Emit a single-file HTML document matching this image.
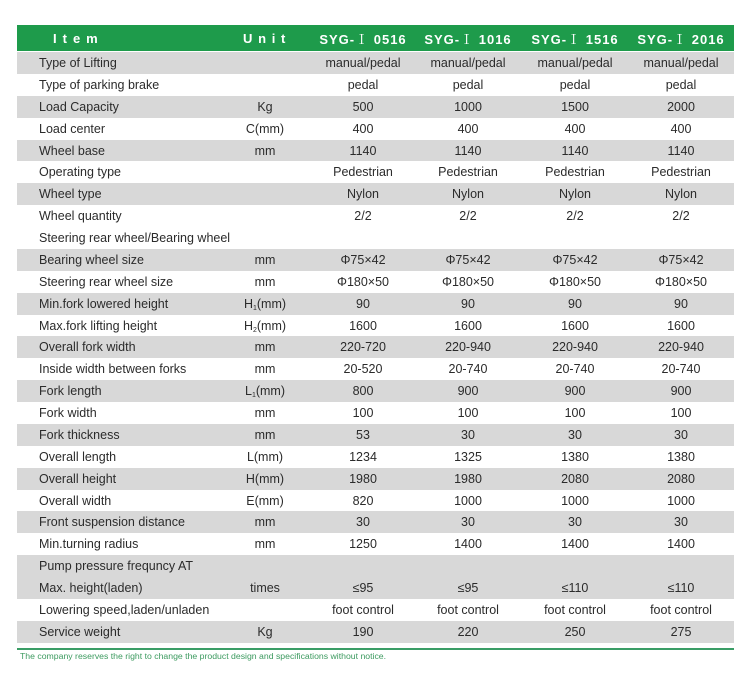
<!DOCTYPE html>
<html>
<head>
<meta charset="utf-8">
<style>
  html,body{margin:0;padding:0;background:#fff;}
  body{width:750px;height:697px;position:relative;overflow:hidden;font-family:"Liberation Sans","Noto Sans CJK SC",sans-serif;color:#2b2b2b;}
  .hdr{position:absolute;left:17px;top:25px;width:717px;height:26px;background:#1e9b4b;color:#fff;font-weight:bold;font-size:13px;}
  .hdr span{position:absolute;top:0;line-height:28px;white-space:nowrap;}
  .hdr .m{width:120px;text-align:center;letter-spacing:1px;}
  .rn{font-family:"Noto Serif CJK SC","Liberation Serif",serif;font-weight:normal;}
  .row{position:absolute;left:17px;width:717px;height:21.88px;font-size:12.5px;}
  .g{background:#d8d8d8;}
  .row span{position:absolute;top:0;line-height:22px;white-space:nowrap;}
  .it{left:22px;}
  .u{left:208px;width:80px;text-align:center;}
  .c1{left:286px;width:120px;text-align:center;}
  .c2{left:391px;width:120px;text-align:center;}
  .c3{left:498px;width:120px;text-align:center;}
  .c4{left:604px;width:120px;text-align:center;}
  sub{font-size:7px;vertical-align:-2px;line-height:0;}
  .line{position:absolute;left:17px;top:647.5px;width:717px;height:2px;background:#3a9d66;}
  .foot{position:absolute;left:20px;top:650.5px;font-size:8.7px;line-height:10px;color:#3c9a5f;white-space:nowrap;}
</style>
</head>
<body>
<div class="hdr">
  <span style="left:36px;letter-spacing:6px;">Item</span>
  <span style="left:226px;letter-spacing:5.7px;">Unit</span>
  <span class="m" style="left:286px;">SYG-<span class="rn" style="position:static;">Ⅰ</span> 0516</span>
  <span class="m" style="left:391px;">SYG-<span class="rn" style="position:static;">Ⅰ</span> 1016</span>
  <span class="m" style="left:498px;">SYG-<span class="rn" style="position:static;">Ⅰ</span> 1516</span>
  <span class="m" style="left:604px;">SYG-<span class="rn" style="position:static;">Ⅰ</span> 2016</span>
</div>

<div class="row g" style="top:52px"><span class="it">Type of Lifting</span><span class="c1">manual/pedal</span><span class="c2">manual/pedal</span><span class="c3">manual/pedal</span><span class="c4">manual/pedal</span></div>
<div class="row" style="top:73.88px"><span class="it">Type of parking brake</span><span class="c1">pedal</span><span class="c2">pedal</span><span class="c3">pedal</span><span class="c4">pedal</span></div>
<div class="row g" style="top:95.76px"><span class="it">Load Capacity</span><span class="u">Kg</span><span class="c1">500</span><span class="c2">1000</span><span class="c3">1500</span><span class="c4">2000</span></div>
<div class="row" style="top:117.64px"><span class="it">Load center</span><span class="u">C(mm)</span><span class="c1">400</span><span class="c2">400</span><span class="c3">400</span><span class="c4">400</span></div>
<div class="row g" style="top:139.52px"><span class="it">Wheel base</span><span class="u">mm</span><span class="c1">1140</span><span class="c2">1140</span><span class="c3">1140</span><span class="c4">1140</span></div>
<div class="row" style="top:161.40px"><span class="it">Operating type</span><span class="c1">Pedestrian</span><span class="c2">Pedestrian</span><span class="c3">Pedestrian</span><span class="c4">Pedestrian</span></div>
<div class="row g" style="top:183.28px"><span class="it">Wheel type</span><span class="c1">Nylon</span><span class="c2">Nylon</span><span class="c3">Nylon</span><span class="c4">Nylon</span></div>
<div class="row" style="top:205.16px"><span class="it">Wheel quantity</span><span class="c1">2/2</span><span class="c2">2/2</span><span class="c3">2/2</span><span class="c4">2/2</span></div>
<div class="row" style="top:227.04px"><span class="it">Steering rear wheel/Bearing wheel</span></div>
<div class="row g" style="top:248.92px"><span class="it">Bearing wheel size</span><span class="u">mm</span><span class="c1">Φ75×42</span><span class="c2">Φ75×42</span><span class="c3">Φ75×42</span><span class="c4">Φ75×42</span></div>
<div class="row" style="top:270.80px"><span class="it">Steering rear wheel size</span><span class="u">mm</span><span class="c1">Φ180×50</span><span class="c2">Φ180×50</span><span class="c3">Φ180×50</span><span class="c4">Φ180×50</span></div>
<div class="row g" style="top:292.68px"><span class="it">Min.fork lowered height</span><span class="u">H<sub>1</sub>(mm)</span><span class="c1">90</span><span class="c2">90</span><span class="c3">90</span><span class="c4">90</span></div>
<div class="row" style="top:314.56px"><span class="it">Max.fork lifting height</span><span class="u">H<sub>2</sub>(mm)</span><span class="c1">1600</span><span class="c2">1600</span><span class="c3">1600</span><span class="c4">1600</span></div>
<div class="row g" style="top:336.44px"><span class="it">Overall fork width</span><span class="u">mm</span><span class="c1">220-720</span><span class="c2">220-940</span><span class="c3">220-940</span><span class="c4">220-940</span></div>
<div class="row" style="top:358.32px"><span class="it">Inside width between forks</span><span class="u">mm</span><span class="c1">20-520</span><span class="c2">20-740</span><span class="c3">20-740</span><span class="c4">20-740</span></div>
<div class="row g" style="top:380.20px"><span class="it">Fork length</span><span class="u">L<sub>1</sub>(mm)</span><span class="c1">800</span><span class="c2">900</span><span class="c3">900</span><span class="c4">900</span></div>
<div class="row" style="top:402.08px"><span class="it">Fork width</span><span class="u">mm</span><span class="c1">100</span><span class="c2">100</span><span class="c3">100</span><span class="c4">100</span></div>
<div class="row g" style="top:423.96px"><span class="it">Fork thickness</span><span class="u">mm</span><span class="c1">53</span><span class="c2">30</span><span class="c3">30</span><span class="c4">30</span></div>
<div class="row" style="top:445.84px"><span class="it">Overall length</span><span class="u">L(mm)</span><span class="c1">1234</span><span class="c2">1325</span><span class="c3">1380</span><span class="c4">1380</span></div>
<div class="row g" style="top:467.72px"><span class="it">Overall height</span><span class="u">H(mm)</span><span class="c1">1980</span><span class="c2">1980</span><span class="c3">2080</span><span class="c4">2080</span></div>
<div class="row" style="top:489.60px"><span class="it">Overall width</span><span class="u">E(mm)</span><span class="c1">820</span><span class="c2">1000</span><span class="c3">1000</span><span class="c4">1000</span></div>
<div class="row g" style="top:511.48px"><span class="it">Front suspension distance</span><span class="u">mm</span><span class="c1">30</span><span class="c2">30</span><span class="c3">30</span><span class="c4">30</span></div>
<div class="row" style="top:533.36px"><span class="it">Min.turning radius</span><span class="u">mm</span><span class="c1">1250</span><span class="c2">1400</span><span class="c3">1400</span><span class="c4">1400</span></div>
<div class="row g" style="top:555.24px"><span class="it">Pump pressure frequncy AT</span></div>
<div class="row g" style="top:577.12px"><span class="it">Max. height(laden)</span><span class="u">times</span><span class="c1">≤95</span><span class="c2">≤95</span><span class="c3">≤110</span><span class="c4">≤110</span></div>
<div class="row" style="top:599.00px"><span class="it">Lowering speed,laden/unladen</span><span class="c1">foot control</span><span class="c2">foot control</span><span class="c3">foot control</span><span class="c4">foot control</span></div>
<div class="row g" style="top:620.88px"><span class="it">Service weight</span><span class="u">Kg</span><span class="c1">190</span><span class="c2">220</span><span class="c3">250</span><span class="c4">275</span></div>

<div class="line"></div>
<div class="foot">The company reserves the right to change the product design and specifications without notice.</div>
</body>
</html>
